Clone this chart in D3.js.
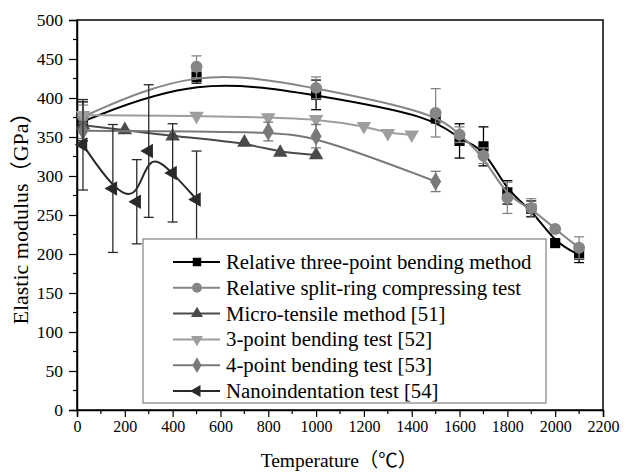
<!DOCTYPE html>
<html>
<head>
<meta charset="utf-8">
<script src="https://cdnjs.cloudflare.com/ajax/libs/d3/7.8.5/d3.min.js"></script>
<style>
  body { margin: 0; background: #fff; }
  text { font-family: "Liberation Serif", "Times New Roman", "Noto Sans CJK SC", serif; }
</style>
</head>
<body>
<svg width="624" height="473"></svg>
<script>
// data: [temperature, modulus, error]
var threePointRel = [[25,370,25],[500,427,8],[1000,404,19],[1500,376,8],[1600,345,22],[1700,338,25],[1800,279,15],[1900,258,10],[2000,214,0],[2100,199,10]];
var splitRingRel  = [[25,376,15],[500,440,14],[1000,413,14],[1500,381,31],[1600,353,10],[1700,326,10],[1800,272,20],[1900,259,12],[2000,232,0],[2100,208,14]];
var microTensile  = [[25,365,0],[200,359,0],[400,351,0],[700,343,0],[850,330,0],[1000,327,0]];
var threePoint52  = [[25,378,0],[500,377,0],[800,375,0],[1000,373,0],[1200,364,0],[1300,355,0],[1400,353,0]];
var fourPoint53   = [[25,358,10],[800,357,12],[1000,351,15],[1500,293,13]];
var nano54        = [[25,340,58],[150,284,82],[250,267,54],[300,332,85],[400,304,63],[500,270,62]];

var xTicks = d3.range(0, 2201, 200);
var yTicks = d3.range(0, 501, 50);

var seriesList = [
  {name: "Relative three-point bending method", data: threePointRel, color: "#000000", sym: d3.symbolSquare, size: 80, rot: 0},
  {name: "Relative split-ring compressing test", data: splitRingRel, color: "#868686", sym: d3.symbolCircle, size: 85, rot: 0},
  {name: "Micro-tensile method [51]", data: microTensile, color: "#4a4a4a", sym: d3.symbolTriangle, size: 70, rot: 0},
  {name: "3-point bending test [52]", data: threePoint52, color: "#9e9e9e", sym: d3.symbolTriangle, size: 70, rot: 180},
  {name: "4-point bending test [53]", data: fourPoint53, color: "#787878", sym: d3.symbolDiamond, size: 80, rot: 0},
  {name: "Nanoindentation test [54]", data: nano54, color: "#2a2a2a", sym: d3.symbolTriangle, size: 70, rot: -90}
];

var margin = {left: 77, top: 20, right: 21, bottom: 63};
var W = 624, H = 473;
var svg = d3.select("svg");

var x = d3.scaleLinear().domain([0, 2200]).range([margin.left, W - margin.right]);
var y = d3.scaleLinear().domain([0, 500]).range([H - margin.bottom, margin.top]);

// frame
svg.append("rect")
  .attr("x", x(0)).attr("y", y(500))
  .attr("width", x(2200) - x(0)).attr("height", y(0) - y(500))
  .attr("fill", "none").attr("stroke", "#000").attr("stroke-width", 1.5);

// minor ticks
var g = svg.append("g");
g.selectAll(".xm").data(d3.range(100, 2200, 200)).enter().append("line")
  .attr("x1", d => x(d)).attr("x2", d => x(d))
  .attr("y1", y(0)).attr("y2", y(0) + 4)
  .attr("stroke", "#000").attr("stroke-width", 1.2);
g.selectAll(".ym").data(d3.range(25, 500, 50)).enter().append("line")
  .attr("y1", d => y(d)).attr("y2", d => y(d))
  .attr("x1", x(0)).attr("x2", x(0) - 4)
  .attr("stroke", "#000").attr("stroke-width", 1.2);

var xAxis = svg.append("g")
  .attr("transform", "translate(0," + y(0) + ")")
  .call(d3.axisBottom(x).tickValues(xTicks).tickSize(7).tickPadding(4).tickFormat(d3.format("d")));
var yAxis = svg.append("g")
  .attr("transform", "translate(" + x(0) + ",0)")
  .call(d3.axisLeft(y).tickValues(yTicks).tickSize(8).tickPadding(6).tickFormat(d3.format("d")));

[xAxis, yAxis].forEach(function(a) {
  a.select(".domain").attr("stroke-width", 1.5);
  a.selectAll(".tick line").attr("stroke-width", 1.2);
  a.selectAll("text").attr("fill", "#000");
});
xAxis.selectAll("text").style("font-size", "16px");
yAxis.selectAll("text").style("font-size", "17.5px");

// axis titles
svg.append("text")
  .attr("x", 339).attr("y", 467)
  .attr("text-anchor", "middle").style("font-size", "19.5px")
  .text("Temperature（℃）");
svg.append("text")
  .attr("transform", "translate(28,213) rotate(-90)")
  .attr("text-anchor", "middle").style("font-size", "22px")
  .text("Elastic modulus（GPa）");

var line = d3.line()
  .x(d => x(d[0])).y(d => y(d[1]))
  .curve(d3.curveBasis);

var plot = svg.append("g");

seriesList.forEach(function(s) {
  var sg = plot.append("g");
  sg.append("path")
    .attr("d", line(s.data))
    .attr("fill", "none").attr("stroke", s.color).attr("stroke-width", 2);

  var eb = sg.selectAll(".eb").data(s.data.filter(d => d[2] > 0)).enter().append("g");
  eb.append("line")
    .attr("x1", d => x(d[0])).attr("x2", d => x(d[0]))
    .attr("y1", d => y(d[1] - d[2])).attr("y2", d => y(d[1] + d[2]))
    .attr("stroke", s.color).attr("stroke-width", 1.3);
  [-1, 1].forEach(function(k) {
    eb.append("line")
      .attr("x1", d => x(d[0]) - 5).attr("x2", d => x(d[0]) + 5)
      .attr("y1", d => y(d[1] + k * d[2])).attr("y2", d => y(d[1] + k * d[2]))
      .attr("stroke", s.color).attr("stroke-width", 1.3);
  });

  sg.selectAll(".pt").data(s.data).enter().append("path")
    .attr("d", d3.symbol().type(s.sym).size(s.size * 1.3))
    .attr("transform", d => "translate(" + x(d[0]) + "," + y(d[1]) + ") rotate(" + s.rot + ")")
    .attr("fill", s.color);
});

// legend
var lg = svg.append("g");
var lx = 143, ly = 239, lw = 403, lh = 164;
lg.append("rect")
  .attr("x", lx).attr("y", ly).attr("width", lw).attr("height", lh)
  .attr("fill", "#fff").attr("stroke", "#808080").attr("stroke-width", 1.2);

var rows = lg.selectAll(".row").data(seriesList).enter().append("g")
  .attr("transform", (d, i) => "translate(0," + (262 + i * 25.8) + ")");
rows.append("line")
  .attr("x1", 173).attr("x2", 220).attr("y1", 0).attr("y2", 0)
  .attr("stroke", d => d.color).attr("stroke-width", 2);
rows.append("path")
  .attr("d", d => d3.symbol().type(d.sym).size(d.size * 0.9)())
  .attr("transform", d => "translate(197,0) rotate(" + d.rot + ")")
  .attr("fill", d => d.color);
rows.append("text")
  .attr("x", 226).attr("y", 7)
  .style("font-size", "20.8px")
  .attr("fill", "#000")
  .text(d => d.name);
</script>
</body>
</html>
